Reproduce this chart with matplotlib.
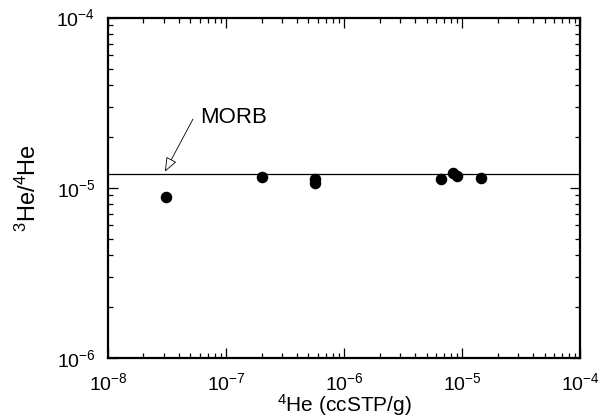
import numpy as np
import matplotlib
matplotlib.use("Agg")
import matplotlib.pyplot as plt
from matplotlib.ticker import LogLocator, LogFormatterMathtext, NullFormatter

plt.rcParams["font.family"] = ["Liberation Sans", "DejaVu Sans"]
plt.rcParams["mathtext.fontset"] = "custom"
plt.rcParams["mathtext.rm"] = "Liberation Sans"
plt.rcParams["mathtext.it"] = "Liberation Sans:italic"
plt.rcParams["mathtext.bf"] = "Liberation Sans:bold"
plt.rcParams["axes.unicode_minus"] = False

# 4He concentration (ccSTP/g) and 3He/4He ratio of the samples
he4 = [3.1e-8, 2.01e-7, 5.68e-7, 5.68e-7, 6.6e-6, 8.44e-6, 9.12e-6, 1.44e-5]
ratio = [0.886e-5, 1.152e-5, 1.118e-5, 1.059e-5, 1.13e-5, 1.226e-5, 1.172e-5, 1.136e-5]

morb_ratio = 1.2e-5
x_range = [1e-8, 1e-4]
y_range = [1e-6, 1e-4]

fig = plt.figure(figsize=(6.03, 4.19), dpi=100)
ax = fig.add_axes([0.179, 0.146, 0.783, 0.812])

ax.set_xscale("log")
ax.set_yscale("log")
ax.set_xlim(x_range)
ax.set_ylim(y_range)

# MORB reference line
ax.plot(x_range, [morb_ratio, morb_ratio], color="black", lw=0.9)

ax.plot(he4, ratio, "o", color="black", ms=7.3, mec="black")

ax.annotate("", xy=(3.04e-8, 1.243e-5), xytext=(5.25e-8, 2.53e-5),
            arrowprops=dict(arrowstyle="-|>,head_length=0.55,head_width=0.22",
                            mutation_scale=16, fc="white", ec="black", lw=0.6,
                            shrinkA=0, shrinkB=0))
ax.text(6.03e-8, 2.6e-5, "MORB", fontsize=16, va="center", ha="left")

for s in ax.spines.values():
    s.set_linewidth(1.6)

ax.xaxis.set_major_locator(LogLocator(base=10, numticks=10))
ax.xaxis.set_minor_locator(LogLocator(base=10, subs=np.arange(2, 10), numticks=20))
ax.yaxis.set_major_locator(LogLocator(base=10, numticks=10))
ax.yaxis.set_minor_locator(LogLocator(base=10, subs=np.arange(2, 10), numticks=20))
ax.xaxis.set_major_formatter(LogFormatterMathtext())
ax.yaxis.set_major_formatter(LogFormatterMathtext())
ax.xaxis.set_minor_formatter(NullFormatter())
ax.yaxis.set_minor_formatter(NullFormatter())

ax.tick_params(which="both", direction="in", top=True, right=True, width=0.9)
ax.tick_params(which="major", length=7.5, labelsize=14)
ax.tick_params(axis="x", which="major", pad=10)
ax.tick_params(axis="y", which="major", pad=9)
ax.tick_params(which="minor", length=3.5)

ax.set_xlabel(r"$^{4}$He (ccSTP/g)", fontsize=15, labelpad=-1)
ax.set_ylabel(r"$^{3}$He/$^{4}$He", fontsize=17, labelpad=11)

fig.savefig("out.png", dpi=100)
